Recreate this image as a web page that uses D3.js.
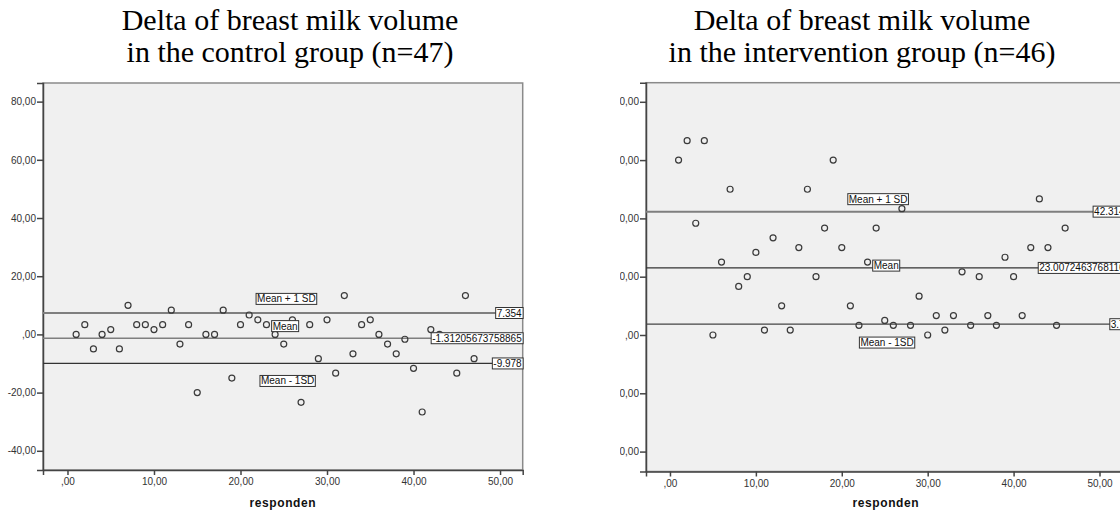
<!DOCTYPE html>
<html>
<head>
<meta charset="utf-8">
<script src="https://cdn.jsdelivr.net/npm/d3@7"></script>
<style>
    body { margin: 0; background: #fff; }
    svg { display: block; }
</style>
</head>
<body>
<div id="container"></div>
<script>
// respondent number (x) and delta of breast milk volume (y)
const controlRespondents = [1, 2, 3, 4, 5, 6, 7, 8, 9, 10, 11, 12, 13, 14, 15, 16, 17, 18, 19, 20,
    21, 22, 23, 24, 25, 26, 27, 28, 29, 30, 31, 32, 33, 34, 35, 36, 37, 38, 39, 40,
    41, 42, 43, 44, 45, 46, 47];
const controlDelta = [0, 3.33, -5, 0, 1.67, -5, 10, 3.33, 3.33, 1.67,
    3.33, 8.33, -3.33, 3.33, -20, 0, 0, 8.33, -15, 3.33,
    6.67, 5, 3.33, 0, -3.33, 5, -23.33, 3.33, -8.33, 5,
    -13.33, 13.33, -6.67, 3.33, 5, 0, -3.33, -6.67, -1.67, -11.67,
    -26.67, 1.67, 0, -1.67, -13.33, 13.33, -8.33];

const interventionRespondents = [1, 2, 3, 4, 5, 6, 7, 8, 9, 10, 11, 12, 13, 14, 15, 16, 17, 18, 19, 20,
    21, 22, 23, 24, 25, 26, 27, 28, 29, 30, 31, 32, 33, 34, 35, 36, 37, 38, 39, 40,
    41, 42, 43, 44, 45, 46];
const interventionDelta = [60, 66.67, 38.33, 66.67, 0, 25, 50, 16.67, 20, 28.33,
    1.67, 33.33, 10, 1.67, 30, 50, 20, 36.67, 60, 30,
    10, 3.33, 25, 36.67, 5, 3.33, 43.33, 3.33, 13.33, 0,
    6.67, 1.67, 6.67, 21.67, 3.33, 20, 6.67, 3.33, 26.67, 20,
    6.67, 30, 46.67, 30, 3.33, 36.67];

// reference lines: mean + 1 SD, mean, mean - 1 SD
const lineNames = ["Mean + 1 SD", "Mean", "Mean - 1SD"];
const controlLines = [7.354, -1.31205673758865, -9.978];
const controlLineLabels = ["7.354", "-1.31205673758865", "-9.978"];
const interventionLines = [42.314, 23.0072463768116, 3.7];
const interventionLineLabels = ["42.314", "23.0072463768116", "3.7"];

const yTicks = [-40, -20, 0, 20, 40, 60, 80];
const xTicks = [0, 10, 20, 30, 40, 50];

const controlTitle = ["Delta of breast milk volume", "in the control group (n=47)"];
const interventionTitle = ["Delta of breast milk volume", "in the intervention group (n=46)"];
const xLabel = "responden";

const width = 1120;
const height = 514;
const sansFont = "'Liberation Sans', Arial, sans-serif";

const fmt = d => d === 0 ? ",00" : d.toFixed(2).replace(".", ",");

const svg = d3.select("#container").append("svg")
    .attr("width", width)
    .attr("height", height);

svg.append("rect")
    .attr("width", width)
    .attr("height", height)
    .attr("fill", "#fff");

// the right chart is cut off on its left side
svg.append("clipPath")
    .attr("id", "clipRight")
    .append("rect")
        .attr("x", 620)
        .attr("y", 0)
        .attr("width", width - 620)
        .attr("height", height);

function drawPanel(opts) {
    const g = svg.append("g");
    if (opts.clip) g.attr("clip-path", `url(#${opts.clip})`);

    const x = d3.scaleLinear().domain(opts.xDomain).range([opts.left, opts.right]);
    const y = d3.scaleLinear().domain(opts.yDomain).range([opts.bottom, opts.top]);

    // title
    g.append("text")
        .attr("x", opts.titleX)
        .attr("y", 30)
        .attr("text-anchor", "middle")
        .style("font-family", "'Liberation Serif', 'Times New Roman', serif")
        .style("font-size", "30px")
        .selectAll("tspan")
        .data(opts.title)
        .enter()
        .append("tspan")
            .attr("x", opts.titleX)
            .attr("dy", (d, i) => i === 0 ? 0 : 32)
            .text(d => d);

    // plot area
    g.append("rect")
        .attr("x", opts.left)
        .attr("y", opts.top)
        .attr("width", opts.right - opts.left)
        .attr("height", opts.bottom - opts.top)
        .attr("fill", "#f0f0f0")
        .attr("stroke", "#8a8a8a")
        .attr("stroke-width", 1.5);

    // axes
    const yAxis = g.append("g")
        .attr("transform", `translate(${opts.left},0)`)
        .call(d3.axisLeft(y).tickValues(yTicks).tickFormat(fmt).tickSize(6).tickPadding(1));
    const xAxis = g.append("g")
        .attr("transform", `translate(0,${opts.bottom})`)
        .call(d3.axisBottom(x).tickValues(xTicks).tickFormat(fmt).tickSize(5).tickPadding(3));
    [yAxis, xAxis].forEach(a => {
        a.select(".domain").attr("stroke", "#444").attr("stroke-width", 1.5);
        a.selectAll(".tick line").attr("stroke", "#444").attr("stroke-width", 1.5);
        a.selectAll(".tick text")
            .attr("fill", "#333")
            .style("font-family", sansFont)
            .style("font-size", "10px");
    });

    // x axis title
    g.append("text")
        .attr("x", (opts.left + opts.right) / 2)
        .attr("y", 507)
        .attr("text-anchor", "middle")
        .style("font-family", sansFont)
        .style("font-size", "12px")
        .style("font-weight", "bold")
        .style("letter-spacing", "0.6px")
        .attr("fill", "#111")
        .text(xLabel);

    // reference lines
    g.selectAll(".ref-line")
        .data(opts.lines)
        .enter()
        .append("line")
            .attr("class", "ref-line")
            .attr("x1", opts.left)
            .attr("x2", opts.right)
            .attr("y1", d => y(d))
            .attr("y2", d => y(d))
            .attr("stroke", (d, i) => opts.lineColors[i])
            .attr("stroke-width", (d, i) => opts.lineWidths[i]);

    // points
    g.selectAll(".point")
        .data(opts.xs)
        .enter()
        .append("circle")
            .attr("class", "point")
            .attr("cx", d => x(d))
            .attr("cy", (d, i) => y(opts.ys[i]))
            .attr("r", 3)
            .attr("fill", "none")
            .attr("stroke", "#3a3a3a")
            .attr("stroke-width", 1.2);

    // boxed labels
    function boxLabel(tx, ty, str, anchor) {
        const lg = g.append("g");
        const box = lg.append("rect")
            .attr("fill", "#fff")
            .attr("stroke", "#333")
            .attr("stroke-width", 1);
        const t = lg.append("text")
            .attr("x", tx)
            .attr("y", ty)
            .attr("dy", "0.35em")
            .attr("text-anchor", anchor)
            .attr("fill", "#111")
            .style("font-family", sansFont)
            .style("font-size", "10px")
            .text(str);
        const b = t.node().getBBox();
        box.attr("x", b.x - 1).attr("y", b.y)
            .attr("width", b.width + 2).attr("height", b.height);
    }

    opts.lines.forEach((v, i) => {
        boxLabel(opts.right - 1, y(v), opts.lineLabels[i], "end");
    });
    lineNames.forEach((name, i) => {
        const a = opts.nameAnchors[i];
        boxLabel(x(a[0]) + 1, y(a[1]), name, "start");
    });
}

drawPanel({
    left: 43, right: 522.7, top: 83, bottom: 470,
    xDomain: [-2.83, 52.62], yDomain: [-46.6, 86.4],
    titleX: 290, title: controlTitle,
    xs: controlRespondents, ys: controlDelta,
    lines: controlLines, lineLabels: controlLineLabels,
    lineColors: ["#7f7f7f", "#7f7f7f", "#333"],
    lineWidths: [2, 1.6, 1.2],
    nameAnchors: [[21.8, 12.2], [23.6, 2.85], [22.25, -16]]
});

drawPanel({
    left: 646, right: 1125.7, top: 82.7, bottom: 471.5,
    xDomain: [-2.79, 53.05], yDomain: [-46.83, 86.55],
    titleX: 862, title: interventionTitle,
    xs: interventionRespondents, ys: interventionDelta,
    lines: interventionLines, lineLabels: interventionLineLabels,
    lineColors: ["#7f7f7f", "#333", "#444"],
    lineWidths: [2, 1.2, 1.2],
    nameAnchors: [[20.7, 46.6], [23.6, 23.8], [22.05, -2.6]],
    clip: "clipRight"
});
</script>
</body>
</html>
